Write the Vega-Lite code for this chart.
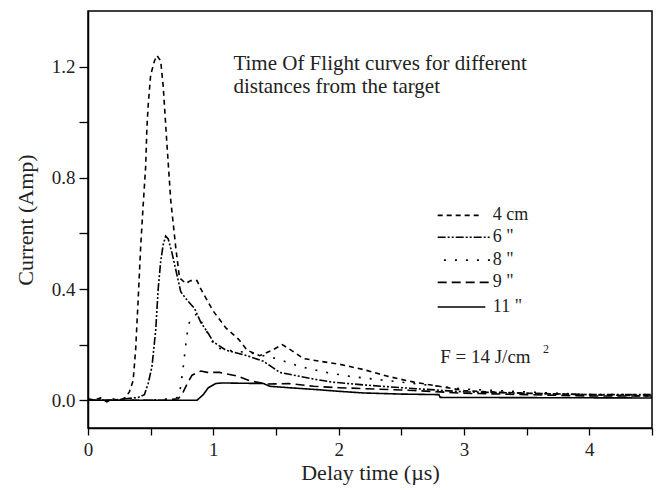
{
  "$schema": "https://vega.github.io/schema/vega-lite/v6.json",
  "width": 564,
  "height": 417,
  "autosize": {"type": "none"},
  "padding": {"left": 88, "top": 11, "right": 4, "bottom": 62},
  "background": "white",
  "config": {
    "font": "Liberation Serif",
    "view": {"stroke": "black", "strokeWidth": 1.5},
    "axis": {
      "domainColor": "black", "domainWidth": 1.5, "tickColor": "black", "tickWidth": 1.3, "tickSize": 7,
      "labelFont": "Liberation Serif", "labelFontSize": 19, "labelColor": "#222",
      "titleFont": "Liberation Serif", "titleFontSize": 22, "titleFontWeight": "normal", "titleColor": "#222",
      "grid": false
    }
  },
  "datasets": {
    "curves": [
      {"s":"4 cm","x":0,"y":0.005},{"s":"4 cm","x":0.05,"y":0.0},{"s":"4 cm","x":0.1,"y":0.008},{"s":"4 cm","x":0.15,"y":-0.006},{"s":"4 cm","x":0.2,"y":0.005},{"s":"4 cm","x":0.25,"y":-0.002},{"s":"4 cm","x":0.3,"y":0.01},{"s":"4 cm","x":0.33,"y":0.03},{"s":"4 cm","x":0.36,"y":0.07},{"s":"4 cm","x":0.38,"y":0.18},{"s":"4 cm","x":0.4,"y":0.36},{"s":"4 cm","x":0.42,"y":0.55},{"s":"4 cm","x":0.44,"y":0.7},{"s":"4 cm","x":0.46,"y":0.84},{"s":"4 cm","x":0.47,"y":0.98},{"s":"4 cm","x":0.48,"y":1.06},{"s":"4 cm","x":0.5,"y":1.17},{"s":"4 cm","x":0.53,"y":1.22},{"s":"4 cm","x":0.55,"y":1.24},{"s":"4 cm","x":0.58,"y":1.22},{"s":"4 cm","x":0.6,"y":1.13},{"s":"4 cm","x":0.63,"y":0.92},{"s":"4 cm","x":0.66,"y":0.72},{"s":"4 cm","x":0.7,"y":0.55},{"s":"4 cm","x":0.73,"y":0.44},{"s":"4 cm","x":0.78,"y":0.42},{"s":"4 cm","x":0.82,"y":0.43},{"s":"4 cm","x":0.87,"y":0.43},{"s":"4 cm","x":0.9,"y":0.4},{"s":"4 cm","x":0.95,"y":0.36},{"s":"4 cm","x":1.0,"y":0.32},{"s":"4 cm","x":1.05,"y":0.29},{"s":"4 cm","x":1.1,"y":0.26},{"s":"4 cm","x":1.2,"y":0.22},{"s":"4 cm","x":1.27,"y":0.18},{"s":"4 cm","x":1.37,"y":0.16},{"s":"4 cm","x":1.47,"y":0.18},{"s":"4 cm","x":1.55,"y":0.2},{"s":"4 cm","x":1.62,"y":0.18},{"s":"4 cm","x":1.72,"y":0.15},{"s":"4 cm","x":1.85,"y":0.14},{"s":"4 cm","x":2.0,"y":0.13},{"s":"4 cm","x":2.2,"y":0.11},{"s":"4 cm","x":2.4,"y":0.085},{"s":"4 cm","x":2.6,"y":0.065},{"s":"4 cm","x":2.8,"y":0.05},{"s":"4 cm","x":3.0,"y":0.035},{"s":"4 cm","x":3.2,"y":0.03},{"s":"4 cm","x":3.5,"y":0.025},{"s":"4 cm","x":4.0,"y":0.02},{"s":"4 cm","x":4.5,"y":0.015},
      {"s":"6 \"","x":0,"y":0.0},{"s":"6 \"","x":0.2,"y":0.0},{"s":"6 \"","x":0.3,"y":0.005},{"s":"6 \"","x":0.4,"y":0.01},{"s":"6 \"","x":0.45,"y":0.02},{"s":"6 \"","x":0.48,"y":0.06},{"s":"6 \"","x":0.51,"y":0.12},{"s":"6 \"","x":0.54,"y":0.25},{"s":"6 \"","x":0.56,"y":0.4},{"s":"6 \"","x":0.58,"y":0.5},{"s":"6 \"","x":0.6,"y":0.56},{"s":"6 \"","x":0.62,"y":0.59},{"s":"6 \"","x":0.64,"y":0.58},{"s":"6 \"","x":0.67,"y":0.53},{"s":"6 \"","x":0.71,"y":0.45},{"s":"6 \"","x":0.74,"y":0.39},{"s":"6 \"","x":0.79,"y":0.36},{"s":"6 \"","x":0.85,"y":0.33},{"s":"6 \"","x":0.9,"y":0.28},{"s":"6 \"","x":0.96,"y":0.24},{"s":"6 \"","x":1.0,"y":0.21},{"s":"6 \"","x":1.1,"y":0.18},{"s":"6 \"","x":1.27,"y":0.16},{"s":"6 \"","x":1.4,"y":0.14},{"s":"6 \"","x":1.53,"y":0.1},{"s":"6 \"","x":1.8,"y":0.076},{"s":"6 \"","x":1.95,"y":0.065},{"s":"6 \"","x":2.2,"y":0.055},{"s":"6 \"","x":2.5,"y":0.045},{"s":"6 \"","x":3.0,"y":0.03},{"s":"6 \"","x":3.5,"y":0.025},{"s":"6 \"","x":4.0,"y":0.02},{"s":"6 \"","x":4.5,"y":0.02},
      {"s":"8 \"","x":0,"y":0.0},{"s":"8 \"","x":0.5,"y":0.0},{"s":"8 \"","x":0.65,"y":0.005},{"s":"8 \"","x":0.72,"y":0.01},{"s":"8 \"","x":0.74,"y":0.05},{"s":"8 \"","x":0.76,"y":0.12},{"s":"8 \"","x":0.78,"y":0.2},{"s":"8 \"","x":0.8,"y":0.27},{"s":"8 \"","x":0.83,"y":0.3},{"s":"8 \"","x":0.87,"y":0.31},{"s":"8 \"","x":0.92,"y":0.27},{"s":"8 \"","x":0.98,"y":0.22},{"s":"8 \"","x":1.02,"y":0.19},{"s":"8 \"","x":1.1,"y":0.18},{"s":"8 \"","x":1.3,"y":0.17},{"s":"8 \"","x":1.5,"y":0.15},{"s":"8 \"","x":1.7,"y":0.12},{"s":"8 \"","x":1.9,"y":0.1},{"s":"8 \"","x":2.1,"y":0.085},{"s":"8 \"","x":2.4,"y":0.07},{"s":"8 \"","x":2.7,"y":0.055},{"s":"8 \"","x":3.0,"y":0.04},{"s":"8 \"","x":3.5,"y":0.03},{"s":"8 \"","x":4.0,"y":0.02},{"s":"8 \"","x":4.5,"y":0.02},
      {"s":"9 \"","x":0,"y":0.0},{"s":"9 \"","x":0.6,"y":0.0},{"s":"9 \"","x":0.72,"y":0.005},{"s":"9 \"","x":0.76,"y":0.03},{"s":"9 \"","x":0.79,"y":0.058},{"s":"9 \"","x":0.83,"y":0.09},{"s":"9 \"","x":0.9,"y":0.105},{"s":"9 \"","x":0.95,"y":0.1},{"s":"9 \"","x":1.05,"y":0.1},{"s":"9 \"","x":1.19,"y":0.087},{"s":"9 \"","x":1.29,"y":0.07},{"s":"9 \"","x":1.43,"y":0.058},{"s":"9 \"","x":1.6,"y":0.06},{"s":"9 \"","x":1.8,"y":0.05},{"s":"9 \"","x":2.0,"y":0.045},{"s":"9 \"","x":2.3,"y":0.04},{"s":"9 \"","x":2.6,"y":0.035},{"s":"9 \"","x":3.0,"y":0.025},{"s":"9 \"","x":3.5,"y":0.02},{"s":"9 \"","x":4.0,"y":0.015},{"s":"9 \"","x":4.5,"y":0.015},
      {"s":"11 \"","x":0,"y":0.0},{"s":"11 \"","x":0.87,"y":0.0},{"s":"11 \"","x":0.92,"y":0.02},{"s":"11 \"","x":0.96,"y":0.045},{"s":"11 \"","x":1.02,"y":0.06},{"s":"11 \"","x":1.07,"y":0.062},{"s":"11 \"","x":1.4,"y":0.06},{"s":"11 \"","x":1.45,"y":0.05},{"s":"11 \"","x":1.6,"y":0.045},{"s":"11 \"","x":1.83,"y":0.038},{"s":"11 \"","x":2.0,"y":0.032},{"s":"11 \"","x":2.2,"y":0.026},{"s":"11 \"","x":2.5,"y":0.022},{"s":"11 \"","x":2.8,"y":0.02},{"s":"11 \"","x":2.81,"y":0.01},{"s":"11 \"","x":4.5,"y":0.008}
    ],
    "legendRows": [
      {"s":"4 cm","lx":2.79,"lx2":3.14,"tx":3.23,"ly":0.665,"label":"4 cm"},
      {"s":"6 \"","lx":2.79,"lx2":3.21,"tx":3.23,"ly":0.586,"label":"6 \""},
      {"s":"8 \"","lx":2.84,"lx2":3.21,"tx":3.23,"ly":0.504,"label":"8 \""},
      {"s":"9 \"","lx":2.79,"lx2":3.21,"tx":3.23,"ly":0.424,"label":"9 \""},
      {"s":"11 \"","lx":2.79,"lx2":3.17,"tx":3.23,"ly":0.335,"label":"11 \""}
    ],
    "notes": [
      {"tx":1.16,"ty":1.21,"label":"Time Of Flight curves for different","size":21},
      {"tx":1.16,"ty":1.125,"label":"distances from the target","size":21}
    ],
    "fnote": [
      {"tx":2.81,"ty":0.155,"label":"F = 14 J/cm"}
    ],
    "sup": [
      {"tx":3.63,"ty":0.185,"label":"2"}
    ]
  },
  "layer": [
    {
      "data": {"name": "curves"},
      "mark": {"type": "line", "color": "black", "strokeWidth": 1.6, "clip": true},
      "encoding": {
        "x": {"field": "x", "type": "quantitative",
              "scale": {"domain": [0, 4.5], "nice": false, "zero": false},
              "axis": {"title": "Delay time (µs)", "values": [0,0.5,1,1.5,2,2.5,3,3.5,4,4.5],
                       "labelExpr": "datum.value % 1 == 0 ? format(datum.value, 'd') : ''",
                       "labelPadding": 5, "titlePadding": 3, "labelFlush": false}},
        "y": {"field": "y", "type": "quantitative",
              "scale": {"domain": [-0.1, 1.4], "nice": false, "zero": false},
              "axis": {"title": "Current (Amp)", "values": [0,0.2,0.4,0.6,0.8,1.0,1.2],
                       "labelExpr": "round(datum.value*10) % 4 == 0 ? format(datum.value, '.1f') : ''",
                       "tickSize": 9, "labelPadding": 4, "titlePadding": 14}},
        "detail": {"field": "s"},
        "strokeDash": {"field": "s", "type": "nominal", "legend": null,
                       "scale": {"domain": ["4 cm","6 \"","8 \"","9 \"","11 \""],
                                 "range": [[5,4],[8,2,2,2,2,2],[2,9],[9,5],[1,0]]}}
      }
    },
    {
      "data": {"name": "legendRows"},
      "mark": {"type": "rule", "color": "black", "strokeWidth": 1.6},
      "encoding": {
        "x": {"field": "lx", "type": "quantitative"},
        "x2": {"field": "lx2"},
        "y": {"field": "ly", "type": "quantitative"},
        "strokeDash": {"field": "s", "type": "nominal", "legend": null}
      }
    },
    {
      "data": {"name": "legendRows"},
      "mark": {"type": "text", "align": "left", "baseline": "middle", "font": "Liberation Serif", "fontSize": 18, "color": "#222"},
      "encoding": {
        "x": {"field": "tx", "type": "quantitative"},
        "y": {"field": "ly", "type": "quantitative"},
        "text": {"field": "label"}
      }
    },
    {
      "data": {"name": "notes"},
      "mark": {"type": "text", "align": "left", "baseline": "middle", "font": "Liberation Serif", "color": "#222"},
      "encoding": {
        "x": {"field": "tx", "type": "quantitative"},
        "y": {"field": "ty", "type": "quantitative"},
        "text": {"field": "label"},
        "size": {"field": "size", "type": "quantitative", "scale": null}
      }
    },
    {
      "data": {"name": "fnote"},
      "mark": {"type": "text", "align": "left", "baseline": "middle", "font": "Liberation Serif", "fontSize": 19, "color": "#222"},
      "encoding": {
        "x": {"field": "tx", "type": "quantitative"},
        "y": {"field": "ty", "type": "quantitative"},
        "text": {"field": "label"}
      }
    },
    {
      "data": {"name": "sup"},
      "mark": {"type": "text", "align": "left", "baseline": "middle", "font": "Liberation Serif", "fontSize": 12, "color": "#222"},
      "encoding": {
        "x": {"field": "tx", "type": "quantitative"},
        "y": {"field": "ty", "type": "quantitative"},
        "text": {"field": "label"}
      }
    }
  ]
}
